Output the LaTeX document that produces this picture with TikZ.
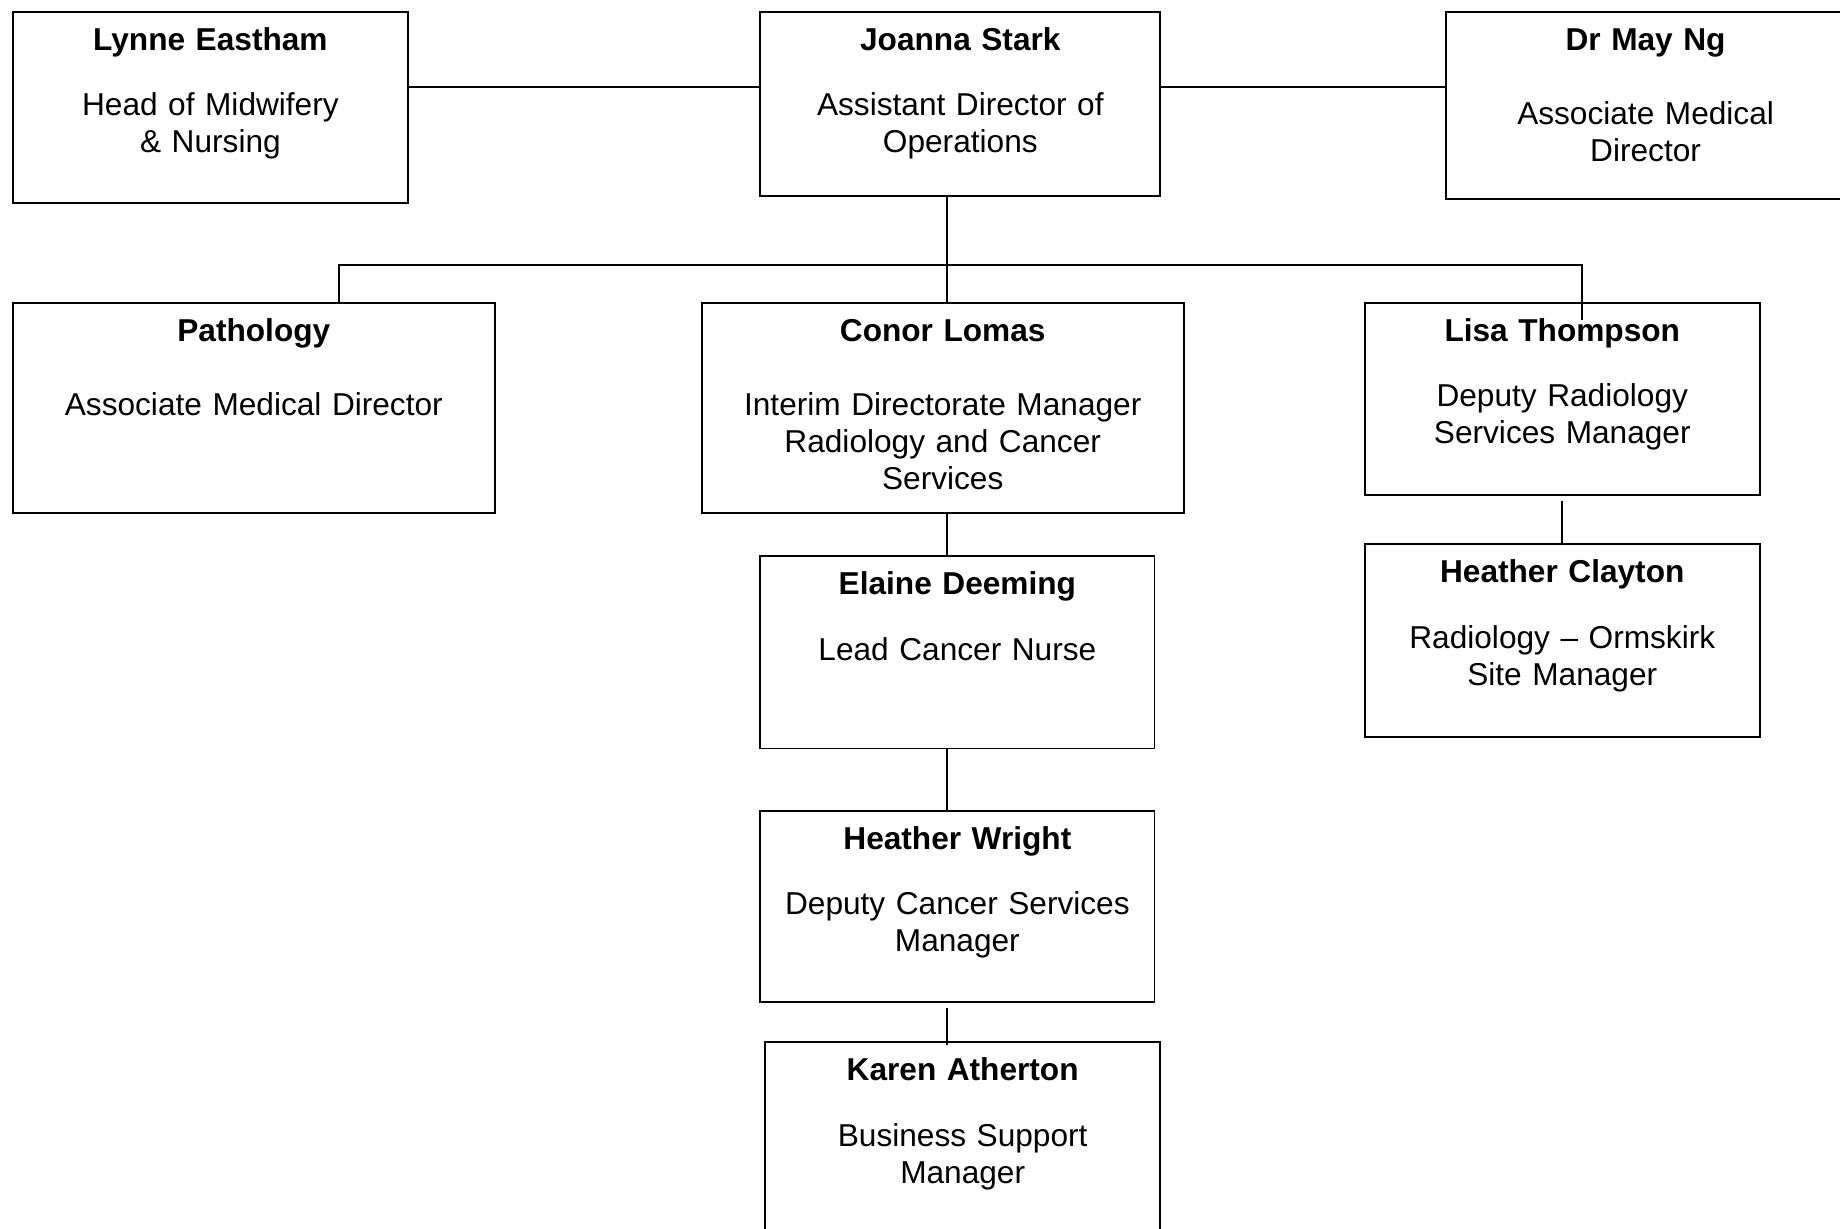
\documentclass[tikz,border=0pt]{standalone}
\usepackage{fontspec}
\setmainfont{Liberation Sans}
\begin{document}
\begin{tikzpicture}[x=0.1mm, y=-0.1mm]
\tikzset{post/.style={shape=rectangle, draw=black, line width=0.55pt, inner sep=0pt, anchor=north west, align=center, text height=3.85mm, font=\fontsize{9pt}{10.5pt}\selectfont},
         link/.style={-, line width=0.55pt, draw=black}}
\useasboundingbox[fill=white] (0,0) rectangle (1840,1229);
% top row
\node[post, text width=39.55mm, text depth=15.27mm] (lynne) at (11.7,10.6) {\textbf{Lynne Eastham}\\[8.2pt]Head of Midwifery\\\& Nursing};
\node[post, text width=40.01mm, text depth=14.57mm] (joanna) at (759.3,10.6) {\textbf{Joanna Stark}\\[8.2pt]Assistant Director of\\Operations};
\node[post, text width=40.00mm, text depth=14.92mm] (may) at (1444.6,10.6) {\textbf{Dr May Ng}\\[10.7pt]Associate Medical\\Director};
% second row
\node[post, text width=48.23mm, text depth=17.15mm] (pathology) at (11.7,301.6) {\textbf{Pathology}\\[10.7pt]Associate Medical Director};
\node[post, text width=48.23mm, text depth=17.15mm] (conor) at (700.6,301.6) {\textbf{Conor Lomas}\\[10.7pt]Interim Directorate Manager\\Radiology and Cancer\\Services};
\node[post, text width=39.54mm, text depth=15.39mm] (lisa) at (1363.6,301.6) {\textbf{Lisa Thompson}\\[8.2pt]Deputy Radiology\\Services Manager};
% lower boxes
\node[post, text width=39.54mm, text depth=15.40mm] (clayton) at (1363.6,543.3) {\textbf{Heather Clayton}\\[8.2pt]Radiology -- Ormskirk\\Site Manager};
\node[post, text width=39.42mm, text depth=15.39mm] (elaine) at (759.3,555.1) {\textbf{Elaine Deeming}\\[8.2pt]Lead Cancer Nurse};
\node[post, text width=39.42mm, text depth=15.28mm] (wright) at (759.3,809.7) {\textbf{Heather Wright}\\[8.2pt]Deputy Cancer Services\\Manager};
\node[post, text width=39.54mm, text depth=15.35mm] (karen) at (764,1040.9) {\textbf{Karen Atherton}\\[8.2pt]Business Support\\Manager};
% junctions
\coordinate (bar) at (0,86.8);
\coordinate (busL) at (339.1,265.2);
\coordinate (busC) at (947,265.2);
\coordinate (busR) at (1581.9,265.2);
\coordinate (lisain) at (1581.9,320.4);
% lines
\path [link] (lynne.east |- bar) edge (joanna.west |- bar);
\path [link] (joanna.east |- bar) edge (may.west |- bar);
\path [link] (busC |- joanna.south) edge (busC |- conor.north);
\draw [link] (busL |- pathology.north) -- (busL) -- (busR) -- (lisain);
\path [link] (busC |- conor.south) edge (busC |- elaine.north);
\path [link] (busC |- elaine.south) edge (busC |- wright.north);
\path [link] ([yshift=-1.3pt]busC |- wright.south) edge ([yshift=-1.3pt]busC |- karen.north);
\path [link] ([yshift=-1.5pt]lisa.south) edge (clayton.north);
\end{tikzpicture}
\end{document}
